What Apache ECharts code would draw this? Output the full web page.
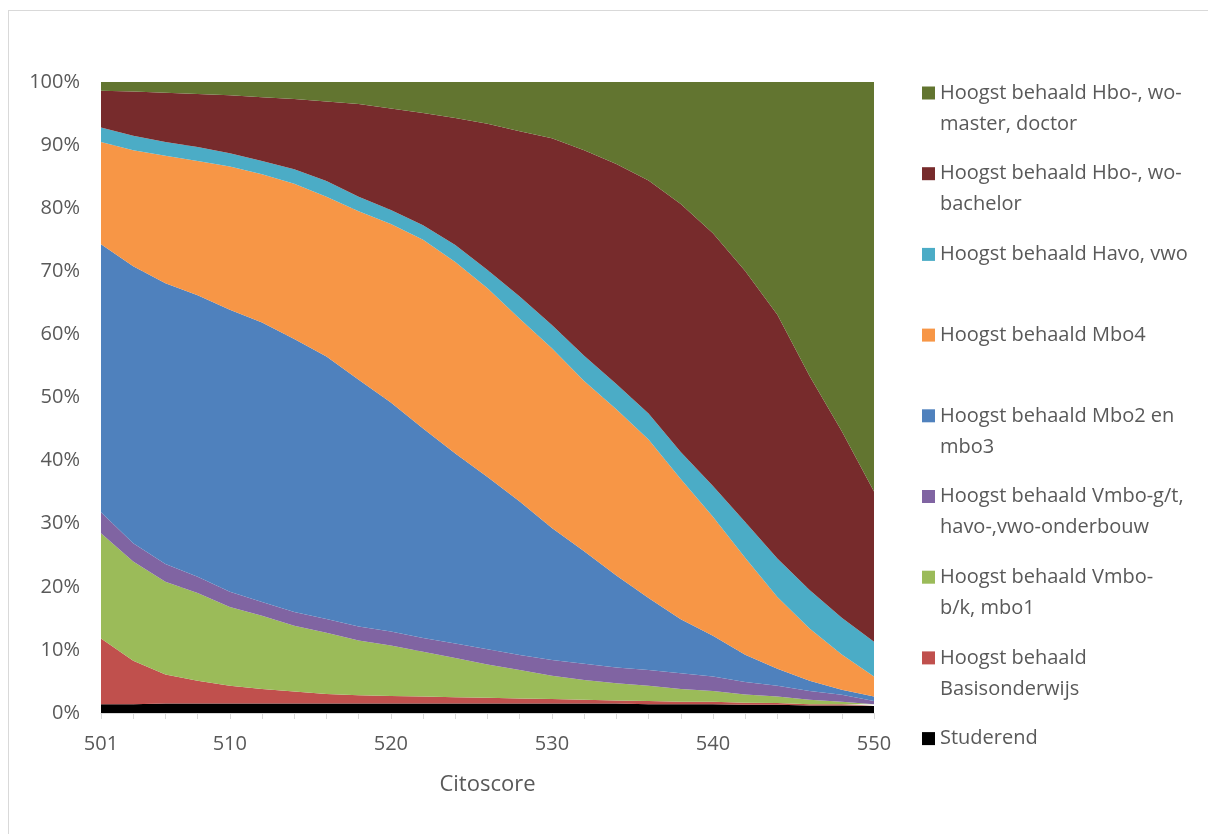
<!DOCTYPE html>
<html>
<head>
<meta charset="utf-8">
<script src="https://cdn.jsdelivr.net/npm/echarts@6/dist/echarts.min.js"></script>
<style>
  html, body { margin: 0; padding: 0; background: #fff; }
  #chart { position: absolute; left: 0; top: 0; width: 1208px; height: 834px; }
  #frame { position: absolute; left: 8px; top: 10px; width: 1210px; height: 840px; border: 1px solid #d9d9d9; pointer-events: none; }
</style>
</head>
<body>
<div id="chart"></div>
<div id="frame"></div>
<script>
// Citoscore categories (only some are labelled on the axis)
var categories = ['501', '503', '505', '507', '510', '512', '514', '516', '518', '520', '522', '524', '526',
  '528', '530', '532', '534', '536', '538', '540', '542', '544', '546', '548', '550'];
var tickLabels = ['501', '510', '520', '530', '540', '550'];
var yTicks = [0, 10, 20, 30, 40, 50, 60, 70, 80, 90, 100];

// share per category, in percent
var studerend = [1.4, 1.4, 1.5, 1.5, 1.5, 1.5, 1.5, 1.5, 1.5, 1.5, 1.5, 1.5, 1.5, 1.5, 1.5, 1.5, 1.5, 1.4, 1.4, 1.4, 1.3, 1.3, 1.2, 1.2, 1.1];
var basis = [10.4, 6.9, 4.6, 3.6, 2.8, 2.3, 1.9, 1.5, 1.3, 1.2, 1.1, 1.0, 0.9, 0.8, 0.7, 0.6, 0.5, 0.5, 0.4, 0.4, 0.3, 0.3, 0.2, 0.2, 0.1];
var vmboBk = [16.7, 15.7, 14.7, 13.9, 12.5, 11.6, 10.4, 9.7, 8.7, 8.0, 7.1, 6.2, 5.3, 4.5, 3.7, 3.1, 2.7, 2.4, 2.0, 1.7, 1.3, 1.0, 0.7, 0.4, 0.2];
var vmboGt = [3.3, 2.9, 2.8, 2.6, 2.4, 2.2, 2.2, 2.2, 2.2, 2.2, 2.2, 2.3, 2.4, 2.4, 2.5, 2.6, 2.5, 2.5, 2.5, 2.3, 2.0, 1.7, 1.4, 1.1, 0.5];
var mbo23 = [42.5, 43.9, 44.5, 44.6, 44.7, 44.3, 43.2, 41.6, 39.1, 36.3, 33.2, 30.1, 27.3, 24.3, 20.9, 17.8, 14.6, 11.4, 8.6, 6.5, 4.3, 2.7, 1.6, 0.8, 0.7];
var mbo4 = [16.2, 18.4, 20.2, 21.3, 22.7, 23.5, 24.6, 25.3, 26.7, 28.3, 29.9, 30.3, 29.9, 29.0, 28.5, 26.9, 26.4, 25.1, 22.3, 19.0, 15.3, 11.4, 8.3, 5.6, 3.2];
var havoVwo = [2.3, 2.3, 2.2, 2.2, 2.1, 2.1, 2.3, 2.5, 2.3, 2.2, 2.3, 2.7, 2.9, 3.5, 3.7, 4.0, 4.0, 4.1, 4.3, 4.9, 5.6, 6.1, 6.1, 5.8, 5.5];
var bachelor = [5.8, 7.0, 7.8, 8.4, 9.2, 10.1, 11.1, 12.6, 14.7, 16.1, 17.8, 20.1, 23.2, 26.2, 29.6, 32.5, 34.9, 36.9, 39.4, 40.3, 39.6, 38.6, 33.9, 29.6, 23.8];
var master = [1.4, 1.5, 1.7, 1.9, 2.1, 2.4, 2.7, 3.1, 3.5, 4.2, 4.9, 5.7, 6.6, 7.8, 8.9, 10.8, 13.0, 15.6, 19.4, 24.1, 29.8, 36.9, 46.6, 55.4, 64.9];

// bottom to top
var seriesNames = ['Studerend', 'Hoogst behaald Basisonderwijs', 'Hoogst behaald Vmbo-b/k, mbo1',
  'Hoogst behaald Vmbo-g/t, havo-,vwo-onderbouw', 'Hoogst behaald Mbo2 en mbo3', 'Hoogst behaald Mbo4',
  'Hoogst behaald Havo, vwo', 'Hoogst behaald Hbo-, wo-bachelor', 'Hoogst behaald Hbo-, wo-master, doctor'];
var seriesData = [studerend, basis, vmboBk, vmboGt, mbo23, mbo4, havoVwo, bachelor, master];
var colors = ['#000000', '#c0504d', '#9bbb59', '#8064a2', '#4f81bd', '#f79646', '#4bacc6', '#772b2c', '#627530'];

// legend text as wrapped in the picture
var legendText = {
  'Hoogst behaald Hbo-, wo-master, doctor': ['Hoogst behaald Hbo-, wo-', 'master, doctor'],
  'Hoogst behaald Hbo-, wo-bachelor': ['Hoogst behaald Hbo-, wo-', 'bachelor'],
  'Hoogst behaald Havo, vwo': ['Hoogst behaald Havo, vwo'],
  'Hoogst behaald Mbo4': ['Hoogst behaald Mbo4'],
  'Hoogst behaald Mbo2 en mbo3': ['Hoogst behaald Mbo2 en', 'mbo3'],
  'Hoogst behaald Vmbo-g/t, havo-,vwo-onderbouw': ['Hoogst behaald Vmbo-g/t,', 'havo-,vwo-onderbouw'],
  'Hoogst behaald Vmbo-b/k, mbo1': ['Hoogst behaald Vmbo-', 'b/k, mbo1'],
  'Hoogst behaald Basisonderwijs': ['Hoogst behaald', 'Basisonderwijs'],
  'Studerend': ['Studerend']
};

var font = '"Open Sans", "Noto Sans", sans-serif';
var textColor = '#595959';

// 100% stacked: normalise every column
var totals = categories.map(function(c, i) {
  var s = 0;
  seriesData.forEach(function(d) { s += d[i]; });
  return s;
});

var series = seriesNames.map(function(name, k) {
  return {
    name: name,
    type: 'line',
    stack: 'total',
    symbol: 'none',
    smooth: false,
    lineStyle: { width: 0 },
    areaStyle: { color: colors[k], opacity: 1 },
    itemStyle: { color: colors[k] },
    emphasis: { disabled: true },
    data: seriesData[k].map(function(v, i) { return v / totals[i] * 100; })
  };
});

// one legend per entry so they sit evenly spaced like the original
var lh = 31;
var legends = seriesNames.slice().reverse().map(function(name, i) {
  var lines = legendText[name];
  var yc = 93 + i * 80.7;
  var two = lines.length === 2;
  return {
    left: 922,
    top: two ? yc - 1.5 * lh : yc - 0.5 * lh,
    orient: 'vertical',
    padding: 0,
    itemWidth: 13,
    itemHeight: 13,
    icon: 'rect',
    selectedMode: false,
    data: [name],
    formatter: function(n) {
      var l = legendText[n];
      return l.length === 2 ? '\n' + l[0] + '\n' + l[1] : l[0];
    },
    textStyle: { fontSize: 20, lineHeight: lh, color: textColor, fontFamily: font }
  };
});

var chart = echarts.init(document.getElementById('chart'), null, { renderer: 'canvas' });
chart.setOption({
  animation: false,
  color: colors,
  grid: { left: 101, right: 334, top: 82, bottom: 121, containLabel: false },
  legend: legends,
  xAxis: {
    type: 'category',
    data: categories,
    boundaryGap: false,
    name: 'Citoscore',
    nameLocation: 'middle',
    nameGap: 61,
    nameTextStyle: { fontSize: 22, color: textColor, fontFamily: font },
    axisLine: { lineStyle: { color: '#d9d9d9', width: 1 } },
    axisTick: { show: true, interval: 0, length: 6, lineStyle: { color: '#d9d9d9' } },
    axisLabel: {
      interval: 0,
      margin: 21,
      fontSize: 20,
      color: textColor,
      fontFamily: font,
      formatter: function(v) { return tickLabels.indexOf(v) >= 0 ? v : ''; }
    },
    splitLine: { show: false }
  },
  yAxis: {
    type: 'value',
    min: yTicks[0],
    max: yTicks[yTicks.length - 1],
    interval: 10,
    axisLine: { show: false },
    axisTick: { show: false },
    axisLabel: { formatter: '{value}%', fontSize: 20, color: textColor, fontFamily: font, margin: 21 },
    splitLine: { show: true, lineStyle: { color: '#d9d9d9' } }
  },
  series: series
});
</script>
</body>
</html>
